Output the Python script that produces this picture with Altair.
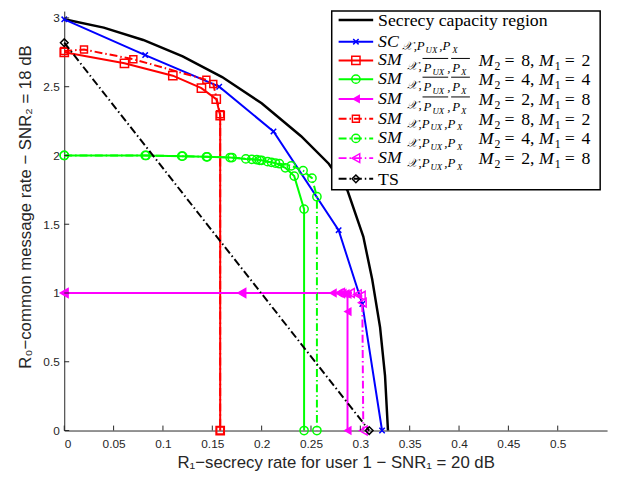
import altair as alt
import pandas as pd

# ---------------- data ----------------
cap_x = [0, 0.04, 0.08, 0.12, 0.16, 0.20, 0.24, 0.268, 0.287, 0.303, 0.312, 0.320, 0.325, 0.328]
cap_y = [2.99, 2.93, 2.84, 2.72, 2.57, 2.38, 2.14, 1.94, 1.745, 1.41, 1.10, 0.75, 0.40, 0.0]

sc_x = [0, 0.082, 0.157, 0.212, 0.278, 0.302, 0.322]
sc_y = [2.99, 2.73, 2.50, 2.175, 1.457, 0.92, 0.0]

sm82b_x = [0, 0.061, 0.110, 0.139, 0.154, 0.158, 0.158]
sm82b_y = [2.75, 2.67, 2.58, 2.49, 2.41, 2.29, 0.0]

sm44b_x = [0, 0.082, 0.119, 0.144, 0.168, 0.184, 0.195, 0.200, 0.206, 0.214, 0.224, 0.233, 0.243, 0.243]
sm44b_y = [2.0, 2.0, 1.995, 1.99, 1.985, 1.975, 1.97, 1.965, 1.955, 1.945, 1.91, 1.85, 1.61, 0.0]

sm28b_x = [0, 0.18, 0.272, 0.278, 0.282, 0.285, 0.287, 0.287, 0.287]
sm28b_y = [1.0, 1.0, 1.0, 1.0, 0.998, 0.995, 0.99, 0.865, 0.0]

sm82_x = [0, 0.020, 0.070, 0.144, 0.151, 0.158, 0.158]
sm82_y = [2.76, 2.77, 2.70, 2.55, 2.52, 2.30, 0.0]

sm44_x = [0, 0.083, 0.120, 0.145, 0.170, 0.190, 0.198, 0.210, 0.218, 0.230, 0.242, 0.251, 0.256, 0.256]
sm44_y = [2.0, 2.0, 1.995, 1.99, 1.985, 1.972, 1.965, 1.95, 1.94, 1.925, 1.89, 1.835, 1.70, 0.0]

sm28_x = [0, 0.18, 0.28, 0.29, 0.297, 0.301, 0.302, 0.303]
sm28_y = [1.0, 1.0, 1.0, 1.0, 0.99, 0.98, 0.93, 0.0]

ts_x = [0, 0.309]
ts_y = [2.82, 0.0]

x_ticks = [0, 0.05, 0.1, 0.15, 0.2, 0.25, 0.3, 0.35, 0.4, 0.45, 0.5]
y_ticks = [0, 0.5, 1, 1.5, 2, 2.5, 3]

# ---------------- layout ----------------
W, H = 550, 425
DASHDOT = [8, 3, 1.5, 3]
XMARK = "M-1,-1L1,1M1,-1L-1,1"

xenc = alt.X("x:Q", scale=alt.Scale(domain=[0, 0.55], nice=False, zero=False),
             axis=alt.Axis(values=x_ticks, format="~g", grid=False, ticks=False,
                           labelPadding=8, titlePadding=5,
                           title="R₁−secrecy rate for user 1 − SNR₁ = 20 dB"))
yenc = alt.Y("y:Q", scale=alt.Scale(domain=[0, 3.05], nice=False, zero=False),
             axis=alt.Axis(values=y_ticks, format="~g", grid=False, ticks=False,
                           labelPadding=5, titlePadding=9, titleY=198,
                           title="R₀−common message rate − SNR₂ = 18 dB"))


def series(xs, ys, color, shape=None, size=60, filled=False, dash=None, width=2.0):
    df = pd.DataFrame({"x": xs, "y": ys, "i": list(range(len(xs)))})
    lkw = dict(color=color, strokeWidth=width)
    if dash:
        lkw["strokeDash"] = dash
    out = [alt.Chart(df).mark_line(**lkw).encode(x=xenc, y=yenc, order="i:Q")]
    if shape:
        out.append(alt.Chart(df).mark_point(shape=shape, size=size, filled=filled, color=color,
                                            strokeWidth=1.5, opacity=1).encode(x=xenc, y=yenc))
    return out


layers = []
layers += series(cap_x, cap_y, "black", width=2.5)
layers += series(sc_x, sc_y, "#0000ff", shape=XMARK, size=30)
layers += series(sm82b_x, sm82b_y, "#ff0000", shape="square", size=70)
layers += series(sm44b_x, sm44b_y, "#00ff00", shape="circle", size=70)
layers += series(sm28b_x, sm28b_y, "#ff00ff", shape="triangle-left", size=90, filled=True)
layers += series(sm82_x, sm82_y, "#ff0000", shape="square", size=50, dash=DASHDOT)
layers += series(sm44_x, sm44_y, "#00ff00", shape="circle", size=70, dash=DASHDOT)
layers += series(sm28_x, sm28_y, "#ff00ff", shape="triangle-left", size=80, dash=DASHDOT)
layers += series(ts_x, ts_y, "black", shape="diamond", size=60, dash=DASHDOT)

# inward ticks (Matlab style)
layers.append(alt.Chart(pd.DataFrame({"x": x_ticks})).mark_rule(color="#262626", strokeWidth=1)
              .encode(x=xenc, y=alt.value(H), y2=alt.value(H - 5)))
layers.append(alt.Chart(pd.DataFrame({"y": y_ticks})).mark_rule(color="#262626", strokeWidth=1)
              .encode(y=yenc, x=alt.value(0), x2=alt.value(5)))

# ---------------- custom legend ----------------
one = pd.DataFrame({"a": [0]})
layers.append(alt.Chart(one).mark_rect(fill="white", stroke="black", strokeWidth=1.5)
              .encode(x=alt.value(271), x2=alt.value(543), y=alt.value(0), y2=alt.value(181)))

rows = [9, 31, 50, 69, 89, 109, 129, 149, 170]
leg_style = [
    ("black", None, None, 0, False, 2.5),
    ("#0000ff", None, XMARK, 30, False, 2),
    ("#ff0000", None, "square", 70, False, 2),
    ("#00ff00", None, "circle", 70, False, 2),
    ("#ff00ff", None, "triangle-left", 90, True, 2),
    ("#ff0000", DASHDOT, "square", 50, False, 2),
    ("#00ff00", DASHDOT, "circle", 70, False, 2),
    ("#ff00ff", DASHDOT, "triangle-left", 80, False, 2),
    ("black", DASHDOT, "diamond", 60, False, 2),
]
for ry, (col, dash, shp, sz, fl, lw) in zip(rows, leg_style):
    kw = dict(color=col, strokeWidth=lw)
    if dash:
        kw["strokeDash"] = dash
    layers.append(alt.Chart(one).mark_rule(**kw).encode(
        x=alt.value(278), x2=alt.value(313), y=alt.value(ry)))
    if shp:
        layers.append(alt.Chart(one).mark_point(shape=shp, size=sz, filled=fl, color=col,
                                                strokeWidth=1.5, opacity=1)
                      .encode(x=alt.value(295.5), y=alt.value(ry)))

SERIF = "Liberation Serif"


def txt(s, x, y, size=18, italic=False):
    kw = dict(align="left", baseline="alphabetic", font=SERIF, fontSize=size, color="black")
    if italic:
        kw["fontStyle"] = "italic"
    layers.append(alt.Chart(one).mark_text(**kw).encode(
        x=alt.value(x), y=alt.value(y), text=alt.value(s)))


# row 1
txt("Secrecy capacity region", 318, rows[0] + 6)
# row 2 : SC_{X,P_UX,P_X}
r = rows[1]
txt("SC", 318, r + 5, italic=True)
txt("𝒳", 342, r + 8, 12, True)
txt(",P", 354, r + 8, 13, True)
txt("UX", 366, r + 11, 9, True)
txt(",P", 380, r + 8, 13, True)
txt("X", 393, r + 11, 9, True)

m_labels = [("8", "2"), ("4", "4"), ("2", "8")]


def m_part(r, m2, m1):
    txt("M", 420, r + 6, italic=True)
    txt("2", 436, r + 10, 12)
    txt("=", 446, r + 6)
    txt(m2 + ",", 463, r + 6)
    txt("M", 481, r + 6, italic=True)
    txt("1", 497, r + 10, 12)
    txt("=", 507, r + 6)
    txt(m1, 524, r + 6)


# rows 3-5 : overlined
for k in range(3):
    r = rows[2 + k]
    txt("SM", 318, r + 5, italic=True)
    txt("𝒳", 347, r + 10, 12, True)
    txt(",", 359, r + 10, 13, True)
    txt("P", 364, r + 12, 13, True)
    txt("UX", 373, r + 15, 9, True)
    txt(",", 388, r + 12, 13, True)
    txt("P", 393, r + 12, 13, True)
    txt("X", 402, r + 15, 9, True)
    for (a, b) in [(363, 389), (392, 411)]:
        layers.append(alt.Chart(one).mark_rule(color="black", strokeWidth=1).encode(
            x=alt.value(a), x2=alt.value(b), y=alt.value(r - 2)))
    m_part(r, *m_labels[k])

# rows 6-8 : plain
for k in range(3):
    r = rows[5 + k]
    txt("SM", 318, r + 5, italic=True)
    txt("𝒳", 347, r + 9, 12, True)
    txt(",P", 359, r + 9, 13, True)
    txt("UX", 371, r + 12, 9, True)
    txt(",P", 385, r + 9, 13, True)
    txt("X", 398, r + 12, 9, True)
    m_part(r, *m_labels[k])

# row 9
txt("TS", 318, rows[8] + 6)

chart = alt.layer(*layers).properties(
    width=W, height=H,
    autosize=alt.AutoSizeParams(type="none"),
    padding={"left": 57, "top": 0, "right": 6, "bottom": 46},
).configure_axis(
    domainColor="#262626", domainWidth=1,
    labelColor="#262626", labelFont="Liberation Sans", labelFontSize=12,
    titleColor="#262626", titleFont="Liberation Sans", titleFontSize=17, titleFontWeight="normal",
).configure_view(stroke=None)

chart.save("out.html", embed_options={"renderer": "svg", "actions": False})
